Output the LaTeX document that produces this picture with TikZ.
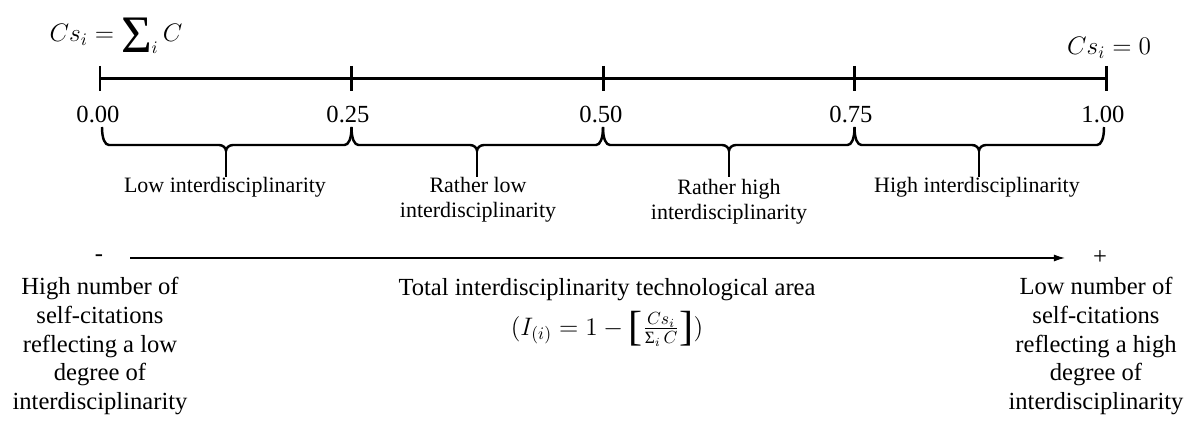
\documentclass[tikz,border=0pt]{standalone}
\usepackage{amsmath}
\usepackage{fontspec}
\setmainfont{Liberation Serif}
\usetikzlibrary{positioning, arrows.meta}

% brace from #1 to #3 with its spike under #2
\newcommand{\quarterbrace}[3]{%
	\draw[brace] (#1) .. controls +(0,12) and +(-4,0) .. ([shift={(7,18)}]#1)
		-- ([shift={(-7,18)}]#2) .. controls +(4,0) and +(0,-3) .. ([shift={(0,24)}]#2)
		.. controls +(0,-3) and +(-4,0) .. ([shift={(7,18)}]#2)
		-- ([shift={(-7,18)}]#3) .. controls +(4,0) and +(0,12) .. (#3);
	\draw[brace] ([shift={(0,23)}]#2) -- ([shift={(0,50)}]#2);}
\newcommand{\bigsum}{\mathop{\vcenter{\hbox{\fontsize{30}{30}\selectfont Σ}}}\nolimits}
\newcommand{\smallsum}{\mathop{\text{Σ}}\nolimits}
\newcommand{\tallbra}{\mathopen{\vcenter{\hbox{\fontsize{24}{24}\selectfont [}}}}
\newcommand{\tallket}{\mathclose{\vcenter{\hbox{\fontsize{24}{24}\selectfont ]}}}}

\begin{document}
\begin{tikzpicture}[
		x=0.02cm, y=-0.02cm,
		>={Latex[length=2.2mm, width=1.4mm]},
		axis/.style={line width=1.7pt},
		brace/.style={line width=1.4pt, line join=round},
		tick/.style={font=\fontsize{14}{16}\selectfont},
		span/.style={font=\fontsize{12.5}{14.2}\selectfont, align=center},
		side/.style={font=\fontsize{14}{16.5}\selectfont, align=center},
		formula/.style={font=\fontsize{14}{16}\selectfont, inner sep=0pt}
		]
		\useasboundingbox (0,0) rectangle (1189,421);
		
		% --- 1. The scale with its ticks ---
		\coordinate (t0) at (100,79);
		\coordinate (t1) at (351.5,79);
		\coordinate (t2) at (603,79);
		\coordinate (t3) at (854.5,79);
		\coordinate (t4) at (1106,79);
		
		\draw[axis] (t0) -- (t4);
		\draw[axis] (t0) ++(0,-13) -- ++(0,25);
		\draw[axis] (t1) ++(0,-13) -- ++(0,25);
		\draw[axis] (t2) ++(0,-13) -- ++(0,25);
		\draw[axis] (t3) ++(0,-13) -- ++(0,25);
		\draw[axis] (t4) ++(0,-13) -- ++(0,25);
		
		% End values of the self-citations
		\node[formula] (csmax) at (116,36) {$Cs_i = \bigsum_i C$};
		\node[formula] (cszero) at (1109,48) {$Cs_i = 0$};
		
		% Tick labels
		\node[tick] (l0) at (98,115) {0.00};
		\node[tick] (l1) at (348,115) {0.25};
		\node[tick] (l2) at (601,115) {0.50};
		\node[tick] (l3) at (851,115) {0.75};
		\node[tick] (l4) at (1103,115) {1.00};
		
		% --- 2. The braces over each quarter ---
		\coordinate (u0) at (102,127);
		\coordinate (u1) at (351.5,127);
		\coordinate (u2) at (603,127);
		\coordinate (u3) at (854.5,127);
		\coordinate (u4) at (1104,127);
		\coordinate (m1) at (226,127);
		\coordinate (m2) at (477,127);
		\coordinate (m3) at (729,127);
		\coordinate (m4) at (979,127);
		
		\quarterbrace{u0}{m1}{u1}
		\quarterbrace{u1}{m2}{u2}
		\quarterbrace{u2}{m3}{u3}
		\quarterbrace{u3}{m4}{u4}
		
		\node[span] (b1) at (225,187) {Low interdisciplinarity};
		\node[span] (b2) at (478,200) {Rather low\\interdisciplinarity};
		\node[span] (b3) at (729,202) {Rather high\\interdisciplinarity};
		\node[span] (b4) at (977,187) {High interdisciplinarity};
		
		% --- 3. The direction of interdisciplinarity ---
		\node[side] (minus) at (99,258) {-};
		\node[side] (plus) at (1100,258) {+};
		\draw[->, line width=0.6pt, shorten <=0.42cm, shorten >=0.44cm] (minus) -- (plus);
		
		\node[side] (lowtxt) at (100,346) {High number of\\self-citations\\reflecting a low\\degree of\\interdisciplinarity};
		\node[side] (hightxt) at (1096,346) {Low number of\\self-citations\\reflecting a high\\degree of\\interdisciplinarity};
		
		\node[side] (total) at (607,290) {Total interdisciplinarity technological area};
		\node[formula] (index) at (607,329) {$(I_{(i)} = 1 - \tallbra\frac{Cs_i}{\smallsum_i C}\tallket)$};
		
	\end{tikzpicture}
\end{document}
